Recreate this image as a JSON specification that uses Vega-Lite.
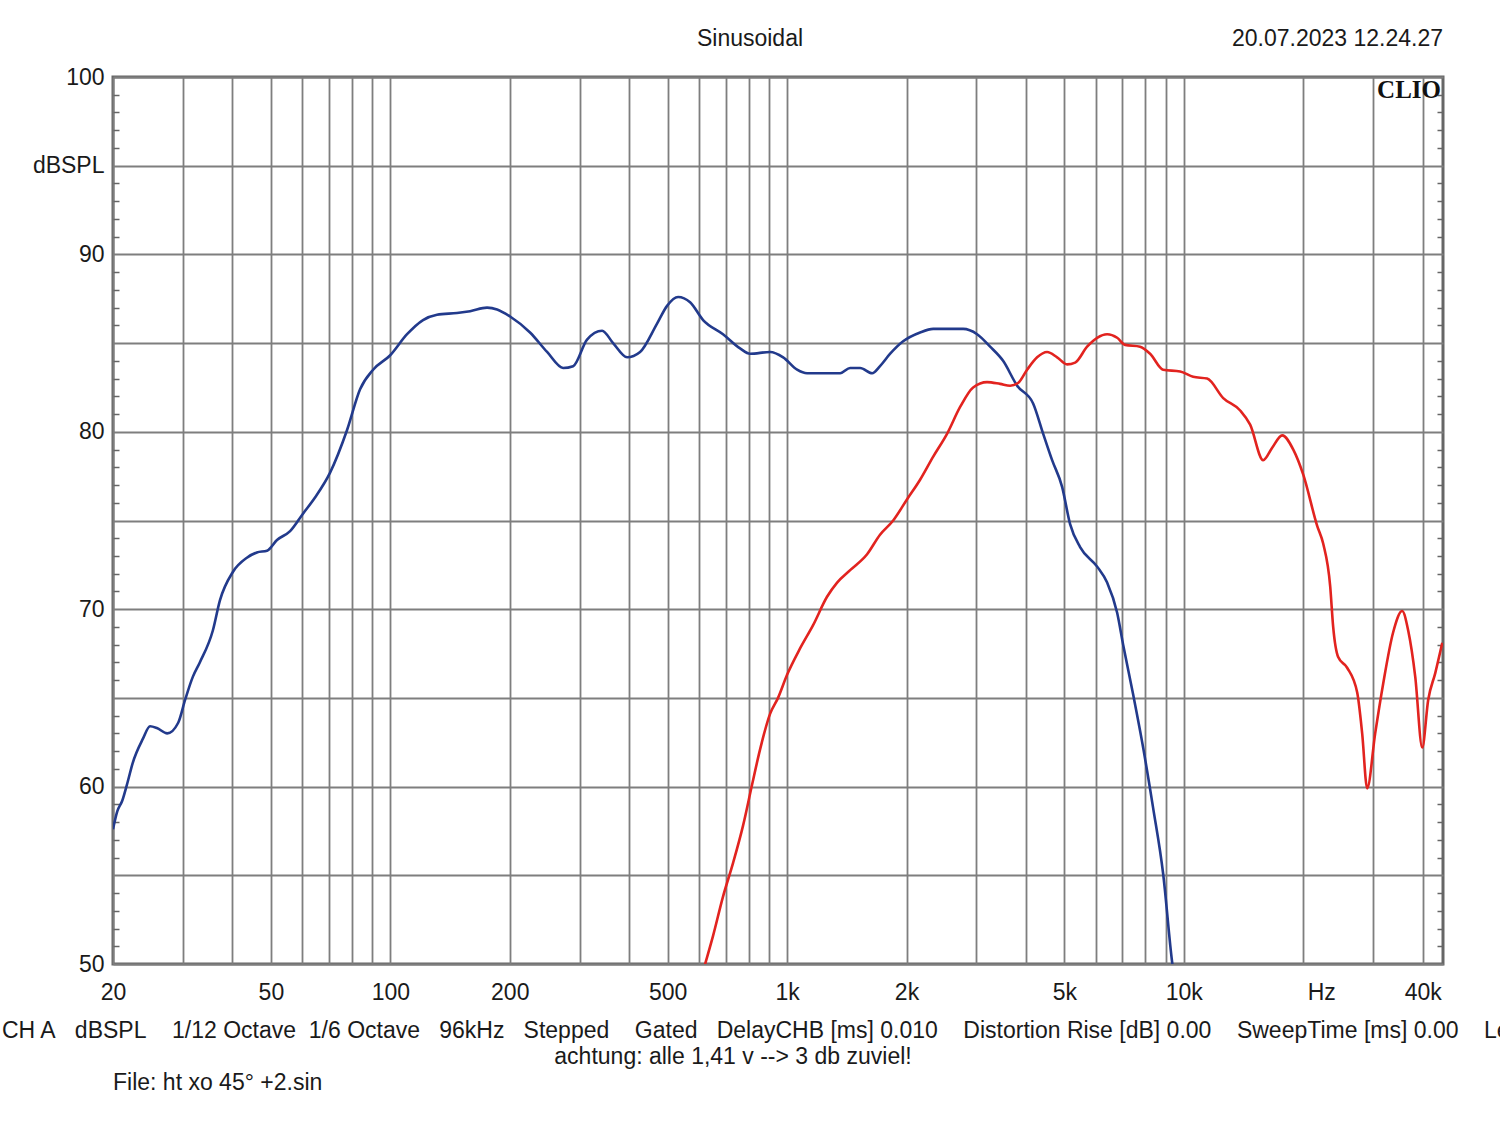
{
  "$schema": "https://vega.github.io/schema/vega-lite/v6.json",
  "width": 1330,
  "height": 887,
  "autosize": {"type": "none"},
  "padding": {"left": 113, "top": 77, "right": 57, "bottom": 157},
  "background": "white",
  "config": {
    "view": {"stroke": "#666666", "strokeWidth": 3},
    "font": "Liberation Sans",
    "text": {"font": "Liberation Sans", "fontSize": 23, "color": "#1a1a1a"}
  },
  "datasets": {
    "curves": [
      {"f": 20, "db": 57.6, "ch": "A"}, {"f": 20.5, "db": 58.6, "ch": "A"}, {"f": 21.1, "db": 59.2, "ch": "A"},
      {"f": 21.8, "db": 60.3, "ch": "A"}, {"f": 22.4, "db": 61.3, "ch": "A"}, {"f": 23.8, "db": 62.7, "ch": "A"},
      {"f": 24.8, "db": 63.4, "ch": "A"}, {"f": 25.8, "db": 63.3, "ch": "A"}, {"f": 27.4, "db": 63.0, "ch": "A"},
      {"f": 29.2, "db": 63.6, "ch": "A"}, {"f": 30.4, "db": 64.9, "ch": "A"}, {"f": 31.8, "db": 66.2, "ch": "A"},
      {"f": 33.1, "db": 67.0, "ch": "A"}, {"f": 35.7, "db": 68.8, "ch": "A"}, {"f": 37.2, "db": 70.5, "ch": "A"},
      {"f": 40.1, "db": 72.1, "ch": "A"}, {"f": 43.5, "db": 72.9, "ch": "A"}, {"f": 46.1, "db": 73.2, "ch": "A"},
      {"f": 48.9, "db": 73.3, "ch": "A"}, {"f": 51.8, "db": 73.9, "ch": "A"}, {"f": 55.9, "db": 74.4, "ch": "A"},
      {"f": 60.3, "db": 75.4, "ch": "A"}, {"f": 64.6, "db": 76.3, "ch": "A"}, {"f": 70.5, "db": 77.7, "ch": "A"},
      {"f": 77.8, "db": 80.1, "ch": "A"}, {"f": 83.9, "db": 82.4, "ch": "A"}, {"f": 90.5, "db": 83.5, "ch": "A"},
      {"f": 99.8, "db": 84.3, "ch": "A"}, {"f": 110.2, "db": 85.5, "ch": "A"}, {"f": 120.9, "db": 86.3, "ch": "A"},
      {"f": 131.1, "db": 86.6, "ch": "A"}, {"f": 147.3, "db": 86.7, "ch": "A"}, {"f": 158.9, "db": 86.8, "ch": "A"},
      {"f": 175.3, "db": 87.0, "ch": "A"}, {"f": 185.8, "db": 86.9, "ch": "A"}, {"f": 200.4, "db": 86.5, "ch": "A"},
      {"f": 225, "db": 85.6, "ch": "A"}, {"f": 248.4, "db": 84.5, "ch": "A"}, {"f": 272.6, "db": 83.6, "ch": "A"},
      {"f": 288.9, "db": 83.7, "ch": "A"}, {"f": 313.2, "db": 85.2, "ch": "A"}, {"f": 341.8, "db": 85.7, "ch": "A"},
      {"f": 364.3, "db": 85.0, "ch": "A"}, {"f": 395.1, "db": 84.2, "ch": "A"}, {"f": 426.1, "db": 84.5, "ch": "A"},
      {"f": 470.2, "db": 86.1, "ch": "A"}, {"f": 498.3, "db": 87.1, "ch": "A"}, {"f": 531.3, "db": 87.6, "ch": "A"},
      {"f": 569.6, "db": 87.3, "ch": "A"}, {"f": 614.2, "db": 86.3, "ch": "A"}, {"f": 689.5, "db": 85.5, "ch": "A"},
      {"f": 761.3, "db": 84.7, "ch": "A"}, {"f": 806.8, "db": 84.4, "ch": "A"}, {"f": 906, "db": 84.5, "ch": "A"},
      {"f": 977.5, "db": 84.2, "ch": "A"}, {"f": 1060, "db": 83.5, "ch": "A"}, {"f": 1123, "db": 83.3, "ch": "A"},
      {"f": 1361, "db": 83.3, "ch": "A"}, {"f": 1442, "db": 83.6, "ch": "A"}, {"f": 1528, "db": 83.6, "ch": "A"},
      {"f": 1638, "db": 83.3, "ch": "A"}, {"f": 1715, "db": 83.7, "ch": "A"}, {"f": 1819, "db": 84.4, "ch": "A"},
      {"f": 1961, "db": 85.1, "ch": "A"}, {"f": 2164, "db": 85.6, "ch": "A"}, {"f": 2335, "db": 85.8, "ch": "A"},
      {"f": 2778, "db": 85.8, "ch": "A"}, {"f": 3013, "db": 85.5, "ch": "A"}, {"f": 3249, "db": 84.8, "ch": "A"},
      {"f": 3503, "db": 84.0, "ch": "A"}, {"f": 3801, "db": 82.6, "ch": "A"}, {"f": 4170, "db": 81.6, "ch": "A"},
      {"f": 4419, "db": 79.9, "ch": "A"}, {"f": 4656, "db": 78.4, "ch": "A"}, {"f": 4934, "db": 76.9, "ch": "A"},
      {"f": 5168, "db": 74.8, "ch": "A"}, {"f": 5477, "db": 73.5, "ch": "A"}, {"f": 6047, "db": 72.4, "ch": "A"},
      {"f": 6408, "db": 71.5, "ch": "A"}, {"f": 6791, "db": 69.8, "ch": "A"}, {"f": 7031, "db": 68.0, "ch": "A"},
      {"f": 7450, "db": 65.2, "ch": "A"}, {"f": 7896, "db": 62.2, "ch": "A"}, {"f": 8367, "db": 58.8, "ch": "A"},
      {"f": 8867, "db": 55.1, "ch": "A"}, {"f": 9344, "db": 50.1, "ch": "A"}, {"f": 9564, "db": 48.5, "ch": "A"},
      {"f": 603.5, "db": 49.0, "ch": "B"}, {"f": 621.5, "db": 50.0, "ch": "B"}, {"f": 651, "db": 51.6, "ch": "B"},
      {"f": 689.5, "db": 53.8, "ch": "B"}, {"f": 731, "db": 55.7, "ch": "B"}, {"f": 774.5, "db": 57.8, "ch": "B"},
      {"f": 816, "db": 60.1, "ch": "B"}, {"f": 855, "db": 62.1, "ch": "B"}, {"f": 906, "db": 64.1, "ch": "B"},
      {"f": 949, "db": 65.0, "ch": "B"}, {"f": 1000, "db": 66.3, "ch": "B"}, {"f": 1079, "db": 67.8, "ch": "B"},
      {"f": 1163, "db": 69.1, "ch": "B"}, {"f": 1261, "db": 70.7, "ch": "B"}, {"f": 1337, "db": 71.5, "ch": "B"},
      {"f": 1442, "db": 72.2, "ch": "B"}, {"f": 1591, "db": 73.1, "ch": "B"}, {"f": 1715, "db": 74.2, "ch": "B"},
      {"f": 1851, "db": 75.0, "ch": "B"}, {"f": 2007, "db": 76.2, "ch": "B"}, {"f": 2164, "db": 77.3, "ch": "B"},
      {"f": 2335, "db": 78.6, "ch": "B"}, {"f": 2532, "db": 79.9, "ch": "B"}, {"f": 2730, "db": 81.4, "ch": "B"},
      {"f": 2944, "db": 82.5, "ch": "B"}, {"f": 3193, "db": 82.8, "ch": "B"}, {"f": 3443, "db": 82.7, "ch": "B"},
      {"f": 3649, "db": 82.6, "ch": "B"}, {"f": 3822, "db": 82.75, "ch": "B"}, {"f": 4027, "db": 83.5, "ch": "B"},
      {"f": 4268, "db": 84.2, "ch": "B"}, {"f": 4523, "db": 84.5, "ch": "B"}, {"f": 4793, "db": 84.2, "ch": "B"},
      {"f": 5079, "db": 83.8, "ch": "B"}, {"f": 5322, "db": 83.9, "ch": "B"}, {"f": 5704, "db": 84.8, "ch": "B"},
      {"f": 6047, "db": 85.3, "ch": "B"}, {"f": 6408, "db": 85.5, "ch": "B"}, {"f": 6791, "db": 85.3, "ch": "B"},
      {"f": 7113, "db": 84.9, "ch": "B"}, {"f": 7760, "db": 84.8, "ch": "B"}, {"f": 8223, "db": 84.4, "ch": "B"},
      {"f": 8867, "db": 83.5, "ch": "B"}, {"f": 9788, "db": 83.4, "ch": "B"}, {"f": 10557, "db": 83.1, "ch": "B"},
      {"f": 11449, "db": 83.0, "ch": "B"}, {"f": 12568, "db": 81.9, "ch": "B"}, {"f": 13868, "db": 81.2, "ch": "B"},
      {"f": 14694, "db": 80.4, "ch": "B"}, {"f": 15850, "db": 78.4, "ch": "B"}, {"f": 16700, "db": 79.1, "ch": "B"},
      {"f": 17697, "db": 79.8, "ch": "B"}, {"f": 18874, "db": 79.0, "ch": "B"}, {"f": 19990, "db": 77.6, "ch": "B"},
      {"f": 21680, "db": 74.7, "ch": "B"}, {"f": 22450, "db": 73.7, "ch": "B"}, {"f": 23380, "db": 71.3, "ch": "B"},
      {"f": 23790, "db": 69.0, "ch": "B"}, {"f": 24490, "db": 67.3, "ch": "B"}, {"f": 25800, "db": 66.7, "ch": "B"},
      {"f": 27350, "db": 65.3, "ch": "B"}, {"f": 28150, "db": 63.0, "ch": "B"}, {"f": 28980, "db": 59.9, "ch": "B"},
      {"f": 30360, "db": 63.0, "ch": "B"}, {"f": 31800, "db": 65.8, "ch": "B"}, {"f": 33700, "db": 68.7, "ch": "B"},
      {"f": 35510, "db": 69.9, "ch": "B"}, {"f": 36770, "db": 68.8, "ch": "B"}, {"f": 38300, "db": 66.2, "ch": "B"},
      {"f": 39890, "db": 62.2, "ch": "B"}, {"f": 41300, "db": 64.9, "ch": "B"}, {"f": 43020, "db": 66.4, "ch": "B"},
      {"f": 44810, "db": 68.1, "ch": "B"}
    ],
    "one": [{}]
  },
  "layer": [
    {
      "data": {"name": "curves"},
      "mark": {"type": "line", "clip": true, "strokeWidth": 2.6, "interpolate": "monotone"},
      "encoding": {
        "x": {
          "field": "f", "type": "quantitative",
          "scale": {"type": "log", "domain": [20, 45000], "nice": false},
          "axis": {
            "title": null,
            "values": [20, 30, 40, 50, 60, 70, 80, 90, 100, 200, 300, 400, 500, 600, 700, 800, 900, 1000, 2000, 3000, 4000, 5000, 6000, 7000, 8000, 9000, 10000, 20000, 30000, 40000],
            "labelExpr": "datum.value == 20000 ? 'Hz' : (indexof([20, 50, 100, 200, 500, 1000, 2000, 5000, 10000, 40000], datum.value) >= 0 ? (datum.value >= 1000 ? (datum.value / 1000) + 'k' : '' + datum.value) : '')",
            "grid": true, "gridColor": "#7e7e7e", "gridWidth": 1.8,
            "ticks": false, "domain": false,
            "labelFont": "Liberation Sans", "labelFontSize": 23, "labelColor": "#1a1a1a",
            "labelPadding": 17, "labelOverlap": false, "labelFlush": false, "labelBound": false,
            "labelOffset": {"condition": {"test": "datum.value == 20000", "value": 18}, "value": 0}
          }
        },
        "y": {
          "field": "db", "type": "quantitative",
          "scale": {"domain": [50, 100], "nice": false, "zero": false},
          "axis": {
            "orient": "left", "title": null,
            "values": [50, 51, 52, 53, 54, 55, 56, 57, 58, 59, 60, 61, 62, 63, 64, 65, 66, 67, 68, 69, 70, 71, 72, 73, 74, 75, 76, 77, 78, 79, 80, 81, 82, 83, 84, 85, 86, 87, 88, 89, 90, 91, 92, 93, 94, 95, 96, 97, 98, 99, 100],
            "labelExpr": "datum.value == 95 ? 'dBSPL' : (datum.value % 10 == 0 ? '' + datum.value : '')",
            "grid": true, "gridColor": "#7e7e7e", "gridWidth": 1.8,
            "gridOpacity": {"condition": {"test": "datum.value % 5 == 0", "value": 1}, "value": 0},
            "ticks": true, "tickSize": -6, "tickColor": "#666666", "tickWidth": 1.5,
            "tickOpacity": {"condition": {"test": "datum.value % 5 == 0", "value": 0}, "value": 1},
            "domain": false,
            "labelFont": "Liberation Sans", "labelFontSize": 23, "labelColor": "#1a1a1a",
            "labelPadding": 15, "labelOverlap": false, "labelFlush": false, "labelBound": false
          }
        },
        "color": {
          "field": "ch", "type": "nominal",
          "scale": {"domain": ["A", "B"], "range": ["#223a8c", "#e2231f"]},
          "legend": null
        }
      }
    },
    {
      "data": {"name": "one"},
      "mark": {"type": "text", "text": "CLIO", "font": "Liberation Serif", "fontWeight": "bold", "fontSize": 25, "color": "#111111", "align": "right", "baseline": "top", "dx": -2, "dy": 1},
      "encoding": {
        "x": {"datum": 45000, "type": "quantitative"},
        "y": {
          "datum": 100, "type": "quantitative",
          "axis": {
            "orient": "right", "title": null,
            "values": [50, 51, 52, 53, 54, 55, 56, 57, 58, 59, 60, 61, 62, 63, 64, 65, 66, 67, 68, 69, 70, 71, 72, 73, 74, 75, 76, 77, 78, 79, 80, 81, 82, 83, 84, 85, 86, 87, 88, 89, 90, 91, 92, 93, 94, 95, 96, 97, 98, 99, 100],
            "labels": false, "grid": false, "domain": false,
            "ticks": true, "tickSize": -6, "tickColor": "#666666", "tickWidth": 1.5,
            "tickOpacity": {"condition": {"test": "datum.value % 5 == 0", "value": 0}, "value": 1}
          }
        }
      }
    },
    {
      "data": {"name": "one"},
      "mark": {"type": "text", "text": "Sinusoidal", "align": "center", "baseline": "middle", "dx": 637, "dy": -38},
      "encoding": {
        "x": {"datum": 20, "type": "quantitative"},
        "y": {"datum": 100, "type": "quantitative", "axis": null}
      }
    },
    {
      "data": {"name": "one"},
      "mark": {"type": "text", "text": "20.07.2023 12.24.27", "align": "right", "baseline": "middle", "dy": -38},
      "encoding": {
        "x": {"datum": 45000, "type": "quantitative"},
        "y": {"datum": 100, "type": "quantitative", "axis": null}
      }
    },
    {
      "data": {"name": "one"},
      "mark": {"type": "text", "text": "CH A\u00a0\u00a0\u00a0dBSPL\u00a0\u00a0\u00a0\u00a01/12 Octave\u00a0\u00a01/6 Octave\u00a0\u00a0\u00a096kHz\u00a0\u00a0\u00a0Stepped\u00a0\u00a0\u00a0\u00a0Gated\u00a0\u00a0\u00a0DelayCHB [ms] 0.010\u00a0\u00a0\u00a0\u00a0Distortion Rise [dB] 0.00\u00a0\u00a0\u00a0\u00a0SweepTime [ms] 0.00\u00a0\u00a0\u00a0\u00a0Le", "align": "left", "baseline": "middle", "dx": -111, "dy": 67},
      "encoding": {
        "x": {"datum": 20, "type": "quantitative"},
        "y": {"datum": 50, "type": "quantitative", "axis": null}
      }
    },
    {
      "data": {"name": "one"},
      "mark": {"type": "text", "text": "achtung: alle 1,41 v --> 3 db zuviel!", "align": "center", "baseline": "middle", "dx": 620, "dy": 93},
      "encoding": {
        "x": {"datum": 20, "type": "quantitative"},
        "y": {"datum": 50, "type": "quantitative", "axis": null}
      }
    },
    {
      "data": {"name": "one"},
      "mark": {"type": "text", "text": "File: ht xo 45° +2.sin", "align": "left", "baseline": "middle", "dy": 119},
      "encoding": {
        "x": {"datum": 20, "type": "quantitative"},
        "y": {"datum": 50, "type": "quantitative", "axis": null}
      }
    }
  ],
  "resolve": {"axis": {"y": "independent"}}
}
